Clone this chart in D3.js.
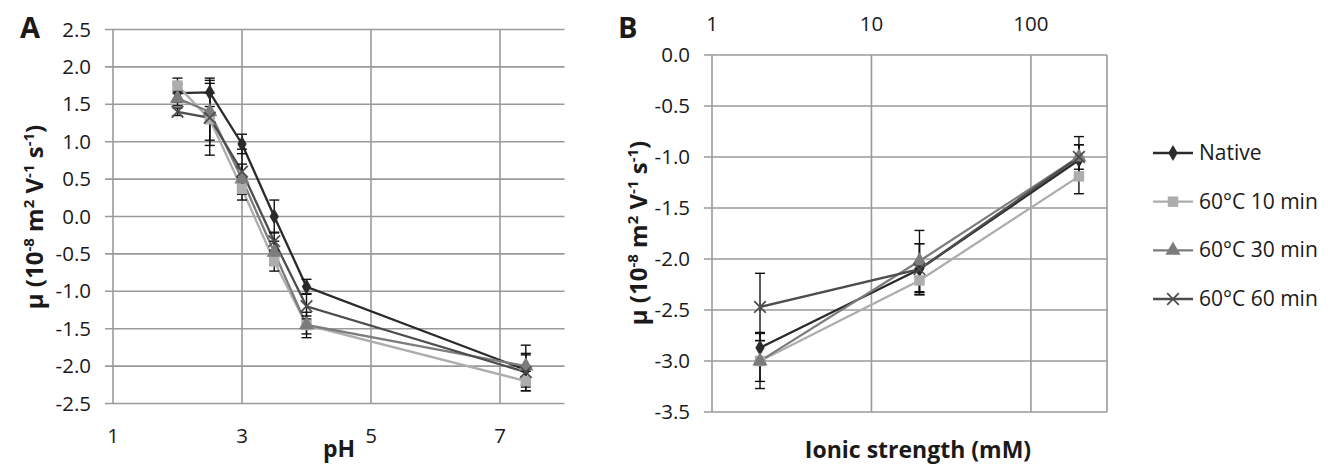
<!DOCTYPE html>
<html>
<head>
<meta charset="utf-8">
<script src="https://cdn.jsdelivr.net/npm/d3@7"></script>
<style>
  body { margin: 0; background: #fff; }
  text { font-family: "Open Sans", sans-serif; fill: #1a1a1a; }
</style>
</head>
<body>
<svg id="fig" width="1330" height="465"></svg>
<script>
(function(root) {
  // data, panel A (pH)
  const pH = [2, 2.5, 3, 3.5, 4, 7.4];
  const phNative = [1.65, 1.66, 0.97, 0.00, -0.94, -2.05];
  const phNativeErr = [0.12, 0.19, 0.13, 0.22, 0.10, 0.20];
  const ph10 = [1.75, 1.30, 0.37, -0.60, -1.45, -2.20];
  const ph10Err = [0.10, 0.35, 0.15, 0.13, 0.12, 0.13];
  const ph30 = [1.58, 1.40, 0.50, -0.48, -1.45, -2.00];
  const ph30Err = [0.10, 0.38, 0.20, 0.15, 0.17, 0.28];
  const ph60 = [1.40, 1.32, 0.60, -0.33, -1.20, -2.08];
  const ph60Err = [0.05, 0.50, 0.30, 0.12, 0.17, 0.25];

  // data, panel B (ionic strength)
  const ionic = [2, 20, 200];
  const isNative = [-2.87, -2.10, -1.03];
  const isNativeErr = [0.15, 0.25, 0.15];
  const is10 = [-3.00, -2.21, -1.19];
  const is10Err = [0.20, 0.12, 0.17];
  const is30 = [-3.00, -2.02, -1.00];
  const is30Err = [0.27, 0.30, 0.20];
  const is60 = [-2.47, -2.10, -1.00];
  const is60Err = [0.33, 0.25, 0.12];

  const seriesNames = ["Native", "60°C 10 min", "60°C 30 min", "60°C 60 min"];
  const seriesColors = ["#2a2a2a", "#adadad", "#7c7c7c", "#4d4d4d"];
  const yTicksA = [2.5, 2.0, 1.5, 1.0, 0.5, 0.0, -0.5, -1.0, -1.5, -2.0, -2.5];
  const xTicksA = [1, 3, 5, 7];
  const yTicksB = [0.0, -0.5, -1.0, -1.5, -2.0, -2.5, -3.0, -3.5];
  const xTicksB = [1, 10, 100];

  const symbols = [d3.symbolDiamond, d3.symbolSquare, d3.symbolTriangle, d3.symbolTimes || d3.symbolX];
  const symSize = [75, 110, 100, 90];
  const gridColor = "#9a9a9a";
  const fmt = v => d3.format(".1f")(v).replace("\u2212", "-");

  const svg = d3.select("#fig");
  svg.append("rect").attr("width", 1330).attr("height", 465).attr("fill", "#fff");

  function makeSeries(xs, lists, errs) {
    return lists.map((vals, i) => ({
      name: seriesNames[i],
      color: seriesColors[i],
      symbol: symbols[i],
      size: symSize[i],
      points: vals.map((v, j) => ({x: xs[j], y: v, e: errs[i][j]}))
    }));
  }

  function drawPanel(opts) {
    const g = svg.append("g");
    const x = opts.x, y = opts.y;
    const [x0, x1] = x.range();
    const [yb, yt] = y.range();

    // horizontal grid + left ticks
    g.selectAll("line.hg").data(opts.yTicks).enter().append("line")
      .attr("x1", x0 - 8).attr("x2", x1)
      .attr("y1", d => y(d)).attr("y2", d => y(d))
      .attr("stroke", gridColor).attr("stroke-width", 1.6);
    // vertical grid
    g.selectAll("line.vg").data(opts.xTicks).enter().append("line")
      .attr("x1", d => x(d)).attr("x2", d => x(d))
      .attr("y1", yt).attr("y2", yb)
      .attr("stroke", gridColor).attr("stroke-width", 1.6);
    if (opts.rightBorder) {
      g.append("line").attr("x1", x1).attr("x2", x1).attr("y1", yt).attr("y2", yb)
        .attr("stroke", gridColor).attr("stroke-width", 1.6);
    }

    // y tick labels
    g.selectAll("text.yl").data(opts.yTicks).enter().append("text")
      .attr("x", x0 - 22).attr("y", d => y(d) + 7)
      .attr("text-anchor", "end").attr("font-size", 20.5)
      .text(fmt);
    // x tick labels
    g.selectAll("text.xl").data(opts.xTicks).enter().append("text")
      .attr("x", d => x(d)).attr("y", opts.xLabelY)
      .attr("text-anchor", "middle").attr("font-size", 20.5)
      .text(d => d);

    const series = opts.series;
    const line = d3.line().x(d => x(d.x)).y(d => y(d.y));

    series.forEach(s => {
      g.append("path").datum(s.points).attr("d", line)
        .attr("fill", "none").attr("stroke", s.color).attr("stroke-width", 2.3);
    });
    // error bars
    series.forEach(s => {
      const eb = g.append("g");
      s.points.forEach(p => {
        const cx = x(p.x);
        eb.append("line").attr("x1", cx).attr("x2", cx)
          .attr("y1", y(p.y + p.e)).attr("y2", y(p.y - p.e))
          .attr("stroke", "#111").attr("stroke-width", 1.4);
        [p.y + p.e, p.y - p.e].forEach(v => {
          eb.append("line").attr("x1", cx - 5).attr("x2", cx + 5)
            .attr("y1", y(v)).attr("y2", y(v))
            .attr("stroke", "#111").attr("stroke-width", 1.4);
        });
      });
    });
    // markers
    series.forEach((s, i) => {
      const isX = i === 3;
      g.selectAll(null).data(s.points).enter().append("path")
        .attr("transform", d => `translate(${x(d.x)},${y(d.y)})`)
        .attr("d", d3.symbol().type(s.symbol).size(s.size))
        .attr("fill", isX ? "none" : s.color)
        .attr("stroke", isX ? s.color : "none")
        .attr("stroke-width", 1.7);
    });

    // y axis title
    const t = g.append("text")
      .attr("transform", `translate(${opts.yTitleX},${opts.yTitleY}) rotate(-90)`)
      .attr("text-anchor", "middle").attr("font-size", 24).attr("font-weight", "bold");
    t.append("tspan").text("\u03bc  (10");
    t.append("tspan").attr("dy", -9).attr("font-size", 15).text("-8");
    t.append("tspan").attr("dy", 9).text(" m");
    t.append("tspan").attr("dy", -9).attr("font-size", 15).text("2");
    t.append("tspan").attr("dy", 9).text(" V");
    t.append("tspan").attr("dy", -9).attr("font-size", 15).text("-1");
    t.append("tspan").attr("dy", 9).text(" s");
    t.append("tspan").attr("dy", -9).attr("font-size", 15).text("-1");
    t.append("tspan").attr("dy", 9).text(")");

    // x title
    g.append("text").attr("x", opts.xTitleX).attr("y", opts.xTitleY)
      .attr("text-anchor", "middle").attr("font-size", 23).attr("font-weight", "bold")
      .text(opts.xTitle);

    // panel letter
    g.append("text").attr("x", opts.letterX).attr("y", 38)
      .attr("font-family", "'Liberation Sans', Arial, sans-serif")
      .attr("font-size", 29).attr("font-weight", "bold").text(opts.letter);
  }

  // panel A
  drawPanel({
    x: d3.scaleLinear().domain([1, 8]).range([113, 564.5]),
    y: d3.scaleLinear().domain([-2.5, 2.5]).range([403.5, 29.5]),
    xTicks: xTicksA, yTicks: yTicksA,
    xLabelY: 443,
    series: makeSeries(pH, [phNative, ph10, ph30, ph60], [phNativeErr, ph10Err, ph30Err, ph60Err]),
    yTitleX: 43, yTitleY: 217,
    xTitle: "pH", xTitleX: 339, xTitleY: 457,
    letter: "A", letterX: 20,
    rightBorder: false
  });

  // panel B
  drawPanel({
    x: d3.scaleLog().domain([1, 300]).range([712, 1107]),
    y: d3.scaleLinear().domain([-3.5, 0]).range([412, 55]),
    xTicks: xTicksB, yTicks: yTicksB,
    xLabelY: 31,
    series: makeSeries(ionic, [isNative, is10, is30, is60], [isNativeErr, is10Err, is30Err, is60Err]),
    yTitleX: 647, yTitleY: 233,
    xTitle: "Ionic strength (mM)", xTitleX: 918, xTitleY: 458,
    letter: "B", letterX: 618,
    rightBorder: true
  });

  // legend
  const legend = svg.append("g");
  const legY = d3.scalePoint().domain(seriesNames).range([153, 299]);
  seriesNames.forEach((name, i) => {
    const yy = legY(name);
    legend.append("line").attr("x1", 1153).attr("x2", 1193).attr("y1", yy).attr("y2", yy)
      .attr("stroke", seriesColors[i]).attr("stroke-width", 2.3);
    legend.append("path").attr("transform", `translate(1173,${yy})`)
      .attr("d", d3.symbol().type(symbols[i]).size(symSize[i]))
      .attr("fill", i === 3 ? "none" : seriesColors[i])
      .attr("stroke", i === 3 ? seriesColors[i] : "none").attr("stroke-width", 1.7);
    legend.append("text").attr("x", 1199).attr("y", yy + 7)
      .attr("font-size", 21).text(name);
  });
})(window);
</script>
</body>
</html>
